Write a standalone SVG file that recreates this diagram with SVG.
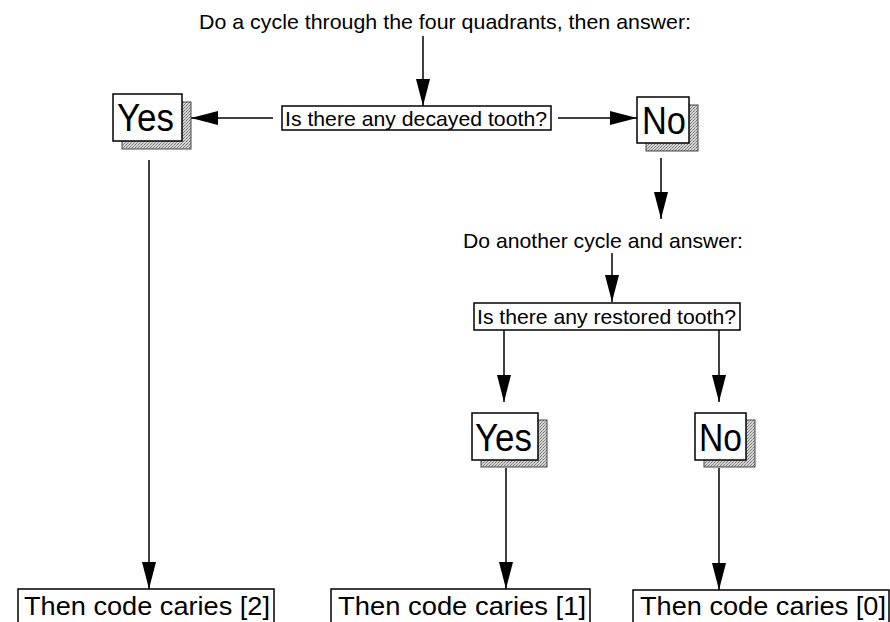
<svg xmlns="http://www.w3.org/2000/svg" width="890" height="622" viewBox="0 0 890 622">
<style>
  text { font-family: "Liberation Sans", Arial, sans-serif; fill: #000; }
  .box { fill: #fff; stroke: #000; stroke-width: 1.5; }
  .shadow { fill: url(#stip); stroke: #444; stroke-width: 1; }
  .conn { stroke: #000; stroke-width: 1.5; fill: none; marker-end: url(#arrow); }
  .lbl { font-size: 21px; }
  .big { font-size: 38px; }
  .res { font-size: 25px; }
</style>
<defs>
  <pattern id="stip" width="3" height="3" patternUnits="userSpaceOnUse">
    <rect width="3" height="3" fill="#d4d4d4"/>
    <rect x="0" y="0" width="1" height="1" fill="#707070"/>
    <rect x="2" y="1" width="1" height="1" fill="#9a9a9a"/>
    <rect x="1" y="2" width="1" height="1" fill="#808080"/>
  </pattern>
  <marker id="arrow" markerUnits="userSpaceOnUse" markerWidth="28" markerHeight="16" refX="27" refY="7" orient="auto">
    <path d="M0,0 L27,7 L0,14 z" fill="#000"/>
  </marker>
</defs>
<rect width="890" height="622" fill="#fff"/>

<g id="connectors">
  <line class="conn" x1="423" y1="36" x2="423" y2="106"/>
  <line class="conn" x1="273" y1="118" x2="191" y2="118"/>
  <line class="conn" x1="558" y1="118" x2="637" y2="118"/>
  <line class="conn" x1="661" y1="158" x2="661" y2="219"/>
  <line class="conn" x1="612" y1="253" x2="612" y2="302"/>
  <line class="conn" x1="504" y1="330" x2="504" y2="402"/>
  <line class="conn" x1="719" y1="330" x2="719" y2="402"/>
  <line class="conn" x1="149" y1="160" x2="149" y2="589"/>
  <line class="conn" x1="506" y1="468" x2="506" y2="589"/>
  <line class="conn" x1="719" y1="468" x2="719" y2="590"/>
</g>

<g id="title">
  <text class="lbl" x="199" y="29" font-size="22" textLength="492" lengthAdjust="spacingAndGlyphs">Do a cycle through the four quadrants, then answer:</text>
</g>

<g id="q1">
  <rect class="box" x="282" y="106" width="269" height="24"/>
  <text class="lbl" x="285" y="126" textLength="262" lengthAdjust="spacingAndGlyphs">Is there any decayed tooth?</text>
</g>

<g id="yes1">
  <rect class="shadow" x="122" y="102" width="69" height="47"/>
  <rect class="box" x="113" y="94" width="69" height="47"/>
  <text class="big" x="117" y="131" textLength="57" lengthAdjust="spacingAndGlyphs">Yes</text>
</g>

<g id="no1">
  <rect class="shadow" x="646" y="105" width="52" height="46"/>
  <rect class="box" x="637" y="97" width="52" height="46"/>
  <text class="big" x="642" y="134" textLength="44" lengthAdjust="spacingAndGlyphs">No</text>
</g>

<g id="prompt2">
  <text class="lbl" x="463" y="248" textLength="280" lengthAdjust="spacingAndGlyphs">Do another cycle and answer:</text>
</g>

<g id="q2">
  <rect class="box" x="474" y="303" width="266" height="27"/>
  <text class="lbl" x="477" y="324" textLength="259" lengthAdjust="spacingAndGlyphs">Is there any restored tooth?</text>
</g>

<g id="yes2">
  <rect class="shadow" x="481" y="420" width="66" height="47"/>
  <rect class="box" x="472" y="413" width="66" height="47"/>
  <text class="big" x="475" y="451" textLength="57" lengthAdjust="spacingAndGlyphs">Yes</text>
</g>

<g id="no2">
  <rect class="shadow" x="704" y="420" width="51" height="47"/>
  <rect class="box" x="695" y="413" width="51" height="47"/>
  <text class="big" x="699" y="451" textLength="43" lengthAdjust="spacingAndGlyphs">No</text>
</g>

<g id="r2">
  <rect class="box" x="18" y="589" width="256" height="50"/>
  <text class="res" x="24" y="615" textLength="246" lengthAdjust="spacingAndGlyphs">Then code caries [2]</text>
</g>

<g id="r1">
  <rect class="box" x="331" y="589" width="259" height="50"/>
  <text class="res" x="338" y="615" textLength="248" lengthAdjust="spacingAndGlyphs">Then code caries [1]</text>
</g>

<g id="r0">
  <rect class="box" x="633" y="590" width="256" height="50"/>
  <text class="res" x="640" y="615" textLength="246" lengthAdjust="spacingAndGlyphs">Then code caries [0]</text>
</g>
</svg>
